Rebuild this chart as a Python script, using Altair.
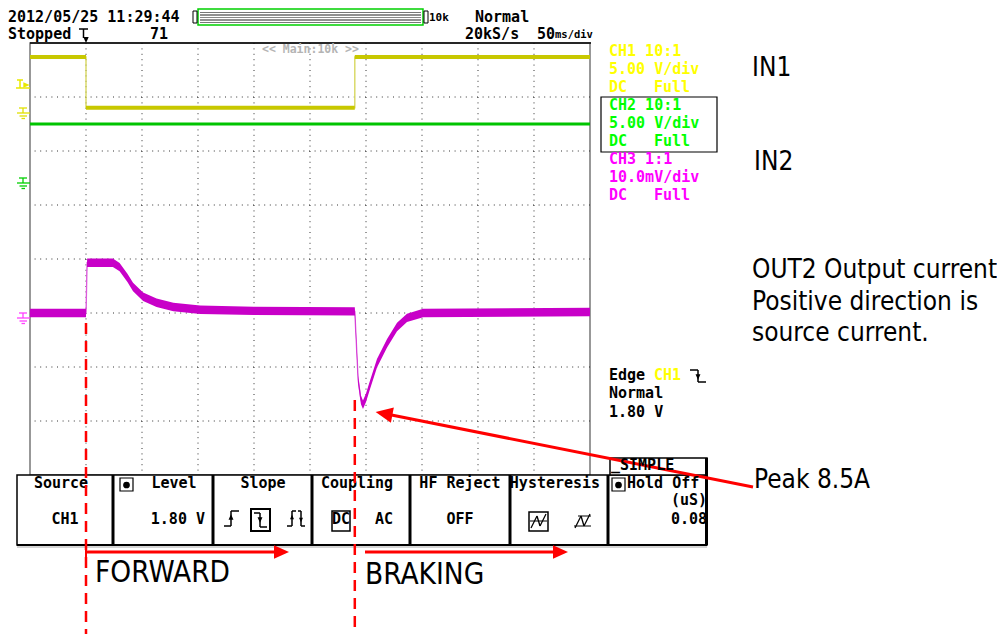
import altair as alt
import pandas as pd

# ---------------------------------------------------------------
# Data
# time: ms (50 ms/div, 10 div); level: screen divisions (8 div, centre = 0)
# ---------------------------------------------------------------
ch1_time = [0, 50, 50, 290, 290, 500]
ch1_level = [3.74, 3.74, 2.80, 2.80, 3.74, 3.74]

ch2_time = [0, 500]
ch2_level = [2.50, 2.50]

ch3_time = [0, 50, 51, 74, 80, 87, 92, 101, 113, 128, 152, 200, 290,
             293, 295.5, 297.3, 300, 303.6, 309.8, 318.8, 327.7, 336.6, 351, 500]
ch3_level = [-1.00, -1.00, -0.07, -0.07, -0.15, -0.35, -0.52, -0.70, -0.81, -0.89, -0.94, -0.96, -0.97,
             -2.24, -2.61, -2.70, -2.57, -2.33, -1.93, -1.56, -1.26, -1.09, -1.00, -0.98]

grid_time = [50, 100, 150, 200, 250, 300, 350, 400, 450]
grid_level = [-3, -2, -1, 0, 1, 2, 3]
event_time = [50, 290]          # CH1 falling / rising edge

header_texts = ["2012/05/25 11:29:44", "Stopped", "71", "Normal", "20kS/s", "50", "ms/div", "10k"]
ch_names = ["CH1 10:1", "CH2 10:1", "CH3 1:1"]
ch_scales = ["5.00 V/div", "5.00 V/div", "10.0mV/div"]
ch_coupling = ["DC", "DC", "DC"]
ch_bandwidth = ["Full", "Full", "Full"]
trig_info = ["Edge", "CH1", "Normal", "1.80 V"]
menu_titles = ["Source", "Level", "Slope", "Coupling", "HF Reject", "Hysteresis", "Hold Off"]
menu_values = ["CH1", "1.80 V", "DC", "AC", "OFF", "(uS)", "0.08"]
tab_label = "_SIMPLE"
zoom_label = "<< Main:10k >>"
notes = ["IN1", "IN2", "OUT2 Output current", "Positive direction is", "source current.",
         "Peak 8.5A", "FORWARD", "BRAKING"]

# ---------------------------------------------------------------
# layout (page pixels), plot area = scope graticule
# ---------------------------------------------------------------
X0, Y0 = 30, 43
W, H = 560, 432
xs = alt.Scale(domain=[0, 500], nice=False, zero=False)
ys = alt.Scale(domain=[-4, 4], nice=False, zero=False)

YEL, GRN, MAG = "#ffff00", "#00ff00", "#ff00ff"
MONO = "DejaVu Sans Mono"
SANS = "DejaVu Sans Condensed, DejaVu Sans"


def px(v):
    return alt.X(v, scale=None, axis=None)


def py(v):
    return alt.Y(v, scale=None, axis=None)


# ---------------- graticule ----------------
grid_v = alt.Chart(pd.DataFrame({"t": grid_time})).mark_rule(
    strokeDash=[1, 4.4], color="#333", strokeWidth=1).encode(x=alt.X("t:Q", scale=xs, axis=None))
grid_h = alt.Chart(pd.DataFrame({"v": grid_level})).mark_rule(
    strokeDash=[1, 4.6], color="#333", strokeWidth=1).encode(y=alt.Y("v:Q", scale=ys, axis=None))


# ---------------- traces ----------------
def trace(times, levels, band_col, edge_col, half):
    df = pd.DataFrame({"t": times, "v": levels, "i": list(range(len(times)))})
    df["lo"] = df["v"] - half
    df["hi"] = df["v"] + half
    core = alt.Chart(df).mark_line(color=edge_col, strokeWidth=1.4).encode(
        x=alt.X("t:Q", scale=xs, axis=None),
        y=alt.Y("v:Q", scale=ys, axis=None), order="i:Q")
    band = alt.Chart(df).mark_area(color=band_col, opacity=1).encode(
        x=alt.X("t:Q", scale=xs, axis=None),
        y=alt.Y("lo:Q", scale=ys, axis=None), y2="hi:Q")
    return [core, band]


traces = (trace(ch1_time, ch1_level, "#c8c800", "#d8d860", 0.037)
          + trace(ch2_time, ch2_level, "#00c400", "#30d030", 0.03)
          + trace(ch3_time, ch3_level, "#c800c8", "#e070e0", 0.078))

# ---------------- rectangles (screen chrome) ----------------
rects = [
    # x1, y1, x2, y2, fill, stroke, width
    (17, 475, 707, 545, "#ffffff", "#000000", 1.5),     # trigger menu
    (610, 458, 707, 475, "#ffffff", "#000000", 1.5),    # SIMPLE tab
    (198, 9, 423, 25, "#ffffff", "#00d000", 1.5),       # record bar
    (193, 11, 197, 23, "#ffffff", "#000000", 1),
    (424, 11, 428, 23, "#ffffff", "#000000", 1),
    (601, 97, 717, 152, "transparent", "#000000", 1.2),  # CH2 selection box
    (120, 478, 133, 491, "#ffffff", "#000000", 1.2),    # level knob icon
    (612, 478, 625, 491, "#ffffff", "#000000", 1.2),    # hold-off knob icon
    (251, 509, 270, 531, "transparent", "#000000", 2),  # slope selected
    (332, 511, 350, 531, "transparent", "#000000", 1.5),  # DC selected
    (529, 512, 548, 531, "transparent", "#000000", 1.5),  # hysteresis selected
]
rect_df = pd.DataFrame(rects, columns=["x1", "y1", "x2", "y2", "f", "s", "w"])
for c in ["x1", "x2"]:
    rect_df[c] -= X0
for c in ["y1", "y2"]:
    rect_df[c] -= Y0
rect_layer = alt.Chart(rect_df).mark_rect().encode(
    x=px("x1:Q"), x2="x2:Q", y=py("y1:Q"), y2="y2:Q",
    fill=alt.Fill("f:N", scale=None), stroke=alt.Stroke("s:N", scale=None),
    strokeWidth=alt.StrokeWidth("w:Q", scale=None))

# ---------------- solid line segments ----------------
segs = [
    (30, 43, 591, 43, "#000000", 1.5),            # top border
    # record bar stripes
    (200, 12.5, 421, 12.5, "#777777", 1), (200, 15, 421, 15, "#222222", 1.2),
    (200, 17.5, 421, 17.5, "#888888", 1), (200, 20, 421, 20, "#222222", 1.2),
    (200, 22.5, 421, 22.5, "#777777", 1),
    # trigger position marker
    (79, 29, 88, 29, "#000000", 1.5), (83.5, 29, 83.5, 38, "#000000", 1.5),
    # menu dividers
    (113, 475, 113, 545, "#000000", 3), (213, 475, 213, 545, "#000000", 3),
    (312, 475, 312, 545, "#000000", 3), (410, 475, 410, 545, "#000000", 3),
    (510, 475, 510, 545, "#000000", 3), (608, 475, 608, 545, "#000000", 3),
    (706.5, 458, 706.5, 545, "#000000", 3), (17, 545, 707, 545, "#000000", 2),
    (17, 547, 707, 547, "#aaaaaa", 1),
    # slope icons
    (224, 526, 231, 526, "#000000", 1.5), (231, 526, 231, 511, "#000000", 1.5), (231, 511, 239, 511, "#000000", 1.5),
    (254, 513, 260, 513, "#000000", 1.5), (260, 513, 260, 527, "#000000", 1.5), (260, 527, 267, 527, "#000000", 1.5),
    (287, 526, 292, 526, "#000000", 1.5), (292, 526, 292, 511, "#000000", 1.5), (292, 511, 296, 511, "#000000", 1.5),
    (298, 511, 301, 511, "#000000", 1.5), (301, 511, 301, 526, "#000000", 1.5), (301, 526, 305, 526, "#000000", 1.5),
    # hysteresis icons
    (531, 528, 537, 516, "#000000", 1.3), (537, 516, 540, 526, "#000000", 1.3), (540, 526, 546, 514, "#000000", 1.3),
    (530, 521, 547, 521, "#000000", 1), (575, 528, 581, 516, "#000000", 1.3), (581, 516, 584, 526, "#000000", 1.3),
    (584, 526, 590, 514, "#000000", 1.3), (574, 526, 591, 526, "#000000", 1), (578, 516, 591, 516, "#000000", 1),
    # trigger edge icon
    (690, 370, 698, 370, "#000000", 1.5), (698, 370, 698, 382, "#000000", 1.5), (698, 382, 706, 382, "#000000", 1.5),
    # CH1 trigger level marker
    (17, 80, 23, 80, "#e8e800", 1.5), (20, 80, 20, 88, "#e8e800", 1.5), (16, 88, 30, 88, "#e8e800", 1.5),
    # ground markers
    (19, 108, 27, 108, "#e0e000", 1.3), (23, 108, 23, 113, "#e0e000", 1.3), (17, 113, 30, 113, "#e0e000", 1.3),
    (19.5, 116, 27, 116, "#e0e000", 1.3), (21.5, 118.5, 25, 118.5, "#e0e000", 1.3),
    (19, 178, 27, 178, "#00d000", 1.3), (23, 178, 23, 183, "#00d000", 1.3), (17, 183, 30, 183, "#00d000", 1.3),
    (19.5, 186, 27, 186, "#00d000", 1.3), (21.5, 188.5, 25, 188.5, "#00d000", 1.3),
    (19, 313, 27, 313, "#ff40ff", 1.3), (23, 313, 23, 318, "#ff40ff", 1.3), (17, 318, 30, 318, "#ff40ff", 1.3),
    (19.5, 321, 27, 321, "#ff40ff", 1.3), (21.5, 323.5, 25, 323.5, "#ff40ff", 1.3),
    # red annotation arrows
    (86, 552, 282, 552, "#ff0000", 3), (86, 546, 86, 558, "#ff0000", 2),
    (365, 552, 561, 552, "#ff0000", 3),
    (753, 487, 384, 413.5, "#ff0000", 3),
]
seg_df = pd.DataFrame(segs, columns=["x1", "y1", "x2", "y2", "c", "w"])
for c in ["x1", "x2"]:
    seg_df[c] -= X0
for c in ["y1", "y2"]:
    seg_df[c] -= Y0
seg_layer = alt.Chart(seg_df).mark_rule().encode(
    x=px("x1:Q"), x2="x2:Q", y=py("y1:Q"), y2="y2:Q",
    color=alt.Color("c:N", scale=None), size=alt.Size("w:Q", scale=None))

# dashed event markers (at the CH1 edges)
dash_df = pd.DataFrame({"t": event_time, "y1": [323 - Y0, 400 - Y0], "y2": [640 - Y0, 640 - Y0]})
dash_layer = alt.Chart(dash_df).mark_rule(color="#ff0000", strokeWidth=2.5, strokeDash=[11, 7]).encode(
    x=alt.X("t:Q", scale=xs, axis=None), y=py("y1:Q"), y2="y2:Q")

# ---------------- small filled symbols ----------------
ARROW = "M1,0L-1,-0.9L-1,0.9Z"
syms = [
    # x, y, angle, size, colour
    (281.5, 552, 0, 225, "#ff0000"),
    (560.5, 552, 0, 225, "#ff0000"),
    (384, 413.5, 191, 290, "#ff0000"),
    (86, 40, 90, 36, "#000000"),
    (231, 517, 270, 30, "#000000"),
    (260, 520, 90, 30, "#000000"),
    (292, 517, 270, 20, "#000000"),
    (301, 520, 90, 20, "#000000"),
    (698, 377, 90, 30, "#000000"),
    (26.5, 85, 0, 40, "#e8e800"),
]
sym_df = pd.DataFrame(syms, columns=["x", "y", "a", "s", "c"])
sym_df["x"] -= X0
sym_df["y"] -= Y0
sym_layer = alt.Chart(sym_df).mark_point(filled=True, opacity=1, shape=ARROW, strokeWidth=0).encode(
    x=px("x:Q"), y=py("y:Q"), angle=alt.Angle("a:Q", scale=None),
    size=alt.Size("s:Q", scale=None), color=alt.Color("c:N", scale=None))

knob_df = pd.DataFrame({"x": [126.5 - X0, 618.5 - X0], "y": [485 - Y0, 485 - Y0]})
knob_layer = alt.Chart(knob_df).mark_point(filled=True, opacity=1, shape="circle", size=45, color="#000").encode(
    x=px("x:Q"), y=py("y:Q"))


# ---------------- texts ----------------
def text_layer(rows, align, font, weight, baseline="middle"):
    df = pd.DataFrame(rows, columns=["txt", "x", "y", "c", "s"])
    df["x"] -= X0
    df["y"] -= Y0
    return alt.Chart(df).mark_text(align=align, baseline=baseline, font=font, fontWeight=weight).encode(
        x=px("x:Q"), y=py("y:Q"), text="txt:N",
        color=alt.Color("c:N", scale=None), size=alt.Size("s:Q", scale=None))


K = "#000000"
mono_left = [
    (header_texts[0], 8, 16.5, K, 15), (header_texts[1], 8, 34, K, 15), (header_texts[2], 150, 34, K, 15),
    (header_texts[3], 475, 16.5, K, 15), (header_texts[4], 465, 34, K, 15), (header_texts[5], 537, 34, K, 15),
    (header_texts[6], 555, 35, K, 10.5), (header_texts[7], 429, 17.5, K, 11),
    (zoom_label, 262, 50, "#b4b4b4", 11.5),
]
for i, col in enumerate([YEL, GRN, MAG]):
    y = 51 + 54 * i
    mono_left += [(ch_names[i], 609, y, col, 15), (ch_scales[i], 609, y + 18, col, 15),
                  (ch_coupling[i], 609, y + 36, col, 15), (ch_bandwidth[i], 654, y + 36, col, 15)]
mono_left += [
    (trig_info[0], 609, 375, K, 15), (trig_info[1], 654, 375, YEL, 15),
    (trig_info[2], 609, 393, K, 15), (trig_info[3], 609, 412, K, 15),
    (tab_label, 611, 465, K, 15), (menu_titles[6], 627, 483, K, 15),
]
mono_center = [
    (menu_titles[0], 61, 483, K, 15), (menu_titles[1], 174, 483, K, 15), (menu_titles[2], 263, 483, K, 15),
    (menu_titles[3], 357, 483, K, 15), (menu_titles[4], 460, 483, K, 15), (menu_titles[5], 555, 483, K, 15),
    (menu_values[0], 65, 519, K, 15), (menu_values[2], 341, 519, K, 15), (menu_values[3], 384, 519, K, 15),
    (menu_values[4], 460, 519, K, 15),
]
mono_right = [
    (menu_values[1], 205, 519, K, 15), (menu_values[5], 707, 500, K, 15), (menu_values[6], 707, 519, K, 15),
]
sans_left = [
    (notes[0], 752, 76, K, 26), (notes[1], 754, 170, K, 26),
    (notes[2], 752, 278, K, 26), (notes[3], 752, 310, K, 26), (notes[4], 752, 341, K, 26),
    (notes[5], 754, 488, K, 26), (notes[6], 95, 582, K, 29.5), (notes[7], 365, 584, K, 29.5),
]

layers = ([grid_v, grid_h] + traces
          + [rect_layer, seg_layer, knob_layer, sym_layer,
             text_layer(mono_left, "left", MONO, "bold"),
             text_layer(mono_center, "center", MONO, "bold"),
             text_layer(mono_right, "right", MONO, "bold"),
             text_layer(sans_left, "left", SANS, "normal", baseline="alphabetic"),
             dash_layer])

chart = alt.layer(*layers).properties(
    width=W, height=H,
    padding={"left": X0 - 8, "top": Y0 - 8, "right": 989 - (X0 - 8) - W, "bottom": 626 - (Y0 - 8) - H},
    autosize=alt.AutoSizeParams(type="none"),
    background="#ffffff",
).configure_view(stroke="#777777", strokeWidth=1.5)

chart.save("out.html", embed_options={"renderer": "svg", "actions": False})
